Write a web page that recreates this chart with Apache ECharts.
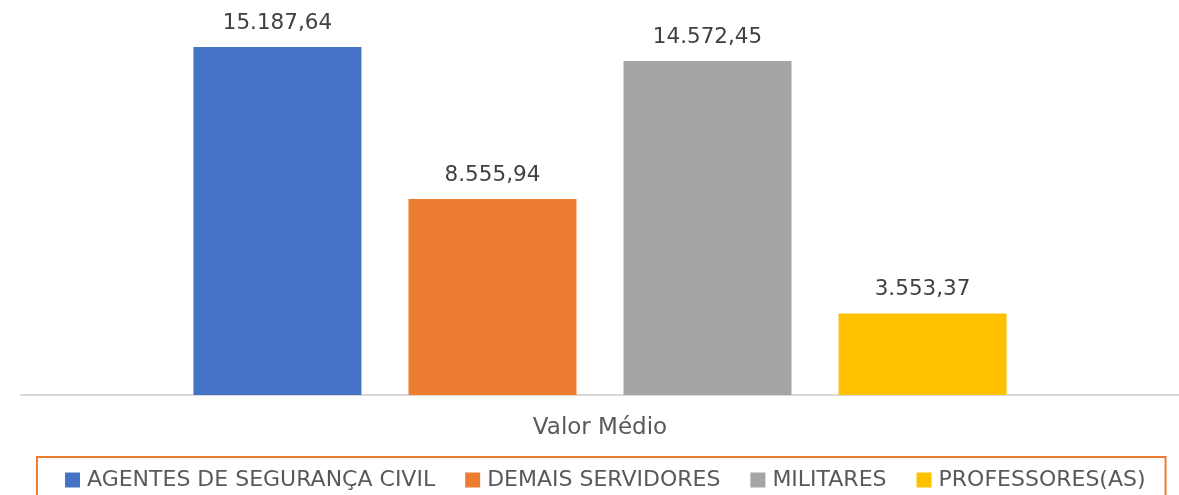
<!DOCTYPE html>
<html>
<head>
<meta charset="utf-8">
<script src="https://cdn.jsdelivr.net/npm/echarts@6/dist/echarts.min.js"></script>
<style>
  html, body { margin: 0; padding: 0; background: #fff; }
  #main { width: 1179px; height: 495px; }
</style>
</head>
<body>
<div id="main"></div>
<script>
var categories = ['Valor Médio'];
var seriesNames = ['AGENTES DE SEGURANÇA CIVIL', 'DEMAIS SERVIDORES', 'MILITARES', 'PROFESSORES(AS)'];
var seriesValues = [15187.64, 8555.94, 14572.45, 3553.37];
var seriesColors = ['#4472C4', '#ED7D31', '#A5A5A5', '#FFC000'];

var chartDom = document.getElementById('main');
var myChart = echarts.init(chartDom);
var option;

// pt-BR style: 15.187,64
function fmt(v) {
  var parts = v.toFixed(2).split('.');
  var intPart = parts[0].replace(/\B(?=(\d{3})+(?!\d))/g, '.');
  return intPart + ',' + parts[1];
}

option = {
  textStyle: { fontFamily: 'DejaVu Sans' },
  animation: false,
  grid: {
    left: 21,
    right: 0,
    top: 28.4,
    bottom: 100
  },
  legend: {
    left: 37,
    top: 457,
    padding: [12, 20, 11, 28],
    borderColor: '#ED7D31',
    borderWidth: 2,
    itemWidth: 15,
    itemHeight: 15,
    itemGap: 30,
    icon: 'rect',
    textStyle: { fontSize: 22, color: '#595959', padding: [0, 0, 0, 2] },
    data: seriesNames
  },
  xAxis: {
    type: 'category',
    data: categories,
    axisLine: { lineStyle: { color: '#D9D9D9', width: 2 } },
    axisTick: { show: false },
    axisLabel: { fontSize: 23, color: '#595959', margin: 22 }
  },
  yAxis: {
    type: 'value',
    min: 0,
    max: 16000,
    show: false,
    splitLine: { show: false }
  },
  series: seriesNames.map(function (name, i) {
    return {
      name: name,
      type: 'bar',
      barWidth: 168,
      barGap: '28%',
      itemStyle: { color: seriesColors[i] },
      label: {
        show: true,
        position: 'top',
        distance: 13,
        fontSize: 21.5,
        color: '#404040',
        formatter: function (p) { return fmt(p.value); }
      },
      data: [seriesValues[i]]
    };
  })
};

option && myChart.setOption(option);
</script>
</body>
</html>
